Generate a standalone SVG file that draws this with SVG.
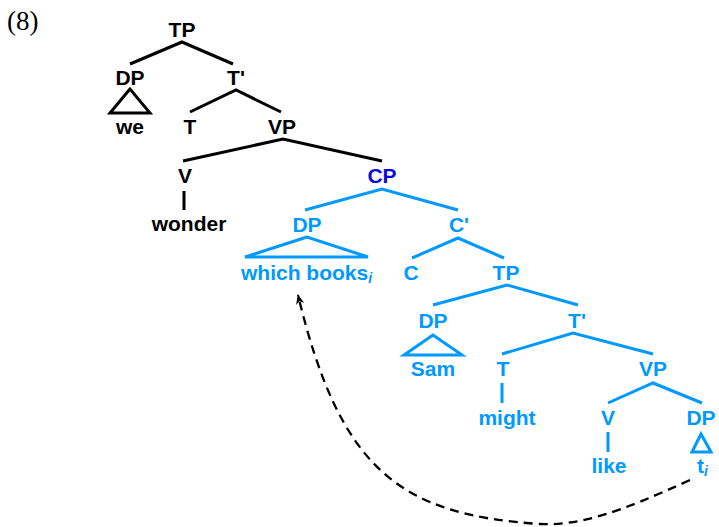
<svg xmlns="http://www.w3.org/2000/svg" width="719" height="527" viewBox="0 0 719 527">
<style>
.lbl{font-family:"Liberation Sans",Arial,sans-serif;font-weight:bold;font-size:21px;text-anchor:middle}
.k{fill:#000}
.b{fill:#0099ff}
.d{fill:#0b0bd8}
.lk{stroke:#000;stroke-width:3;fill:none;stroke-linecap:butt}
.lb{stroke:#0099ff;stroke-width:3;fill:none;stroke-linecap:butt}
.sub{font-style:italic;font-size:14px}
</style>
<defs>
<marker id="ah" viewBox="0 0 10 10" refX="9" refY="5" markerWidth="4.5" markerHeight="4.5" orient="auto" markerUnits="strokeWidth">
<path d="M0,1 L10,5 L0,9 L3,5 Z" fill="#000"/>
</marker>
</defs>
<rect width="719" height="527" fill="#fff"/>
<text x="7" y="30" font-family="'Liberation Serif','Times New Roman',serif" font-size="27" fill="#000">(8)</text>

<g id="connectors">
<path class="lk" d="M130,64 L182,42 L233,64"/>
<path class="lk" d="M190,112 L236,90 L281,112"/>
<path class="lk" d="M183,161 L283,139 L382,161"/>
<path class="lk" d="M184,191 L184,210"/>
<path class="lb" d="M305,210 L382,189 L458,210"/>
<path class="lb" d="M412,258 L458,238 L504,258"/>
<path class="lb" d="M433,305 L507,285 L578,305"/>
<path class="lb" d="M502,354 L573,333 L653,354"/>
<path class="lb" d="M502,383 L502,403"/>
<path class="lb" d="M608,403 L653,383 L702,403"/>
<path class="lb" d="M608,432 L608,452"/>
<path d="M690,480 C620,512 580,526 540,524 C400,515 340,470 298,295" fill="none" stroke="#000" stroke-width="2.3" stroke-dasharray="9,6" marker-end="url(#ah)"/>
</g>

<g id="n-TP1"><text class="lbl k" x="182" y="37">TP</text></g>
<g id="n-DP1"><text class="lbl k" x="130" y="85">DP</text>
<path class="lk" d="M130,89 L110,113 L150,113 Z" stroke-linejoin="miter"/></g>
<g id="n-we"><text class="lbl k" x="130" y="134">we</text></g>
<g id="n-Tbar1"><text class="lbl k" x="236" y="85">T'</text></g>
<g id="n-T1"><text class="lbl k" x="190" y="134">T</text></g>
<g id="n-VP1"><text class="lbl k" x="282" y="134">VP</text></g>
<g id="n-V1"><text class="lbl k" x="185" y="183">V</text></g>
<g id="n-wonder"><text class="lbl k" x="189" y="231">wonder</text></g>
<g id="n-CP"><text class="lbl d" x="382" y="183">CP</text></g>
<g id="n-DP2"><text class="lbl b" x="307" y="232">DP</text>
<path class="lb" d="M307,237 L245,257 L368,257 Z"/></g>
<g id="n-whichbooks"><text class="lbl b" x="241" y="280" style="text-anchor:start">which books<tspan class="sub" dy="3">i</tspan></text></g>
<g id="n-Cbar"><text class="lbl b" x="459" y="232">C'</text></g>
<g id="n-C"><text class="lbl b" x="411" y="280">C</text></g>
<g id="n-TP2"><text class="lbl b" x="506" y="280">TP</text></g>
<g id="n-DP3"><text class="lbl b" x="433" y="328">DP</text>
<path class="lb" d="M433,335 L404,355 L462,355 Z"/></g>
<g id="n-Sam"><text class="lbl b" x="433" y="376">Sam</text></g>
<g id="n-Tbar2"><text class="lbl b" x="577" y="328">T'</text></g>
<g id="n-T2"><text class="lbl b" x="503" y="376">T</text></g>
<g id="n-might"><text class="lbl b" x="507" y="425">might</text></g>
<g id="n-VP2"><text class="lbl b" x="653" y="376">VP</text></g>
<g id="n-V2"><text class="lbl b" x="608" y="425">V</text></g>
<g id="n-like"><text class="lbl b" x="609" y="473">like</text></g>
<g id="n-DP4"><text class="lbl b" x="701" y="425">DP</text>
<path class="lb" d="M701,434 L692,452 L711,452 Z"/></g>
<g id="n-ti"><text class="lbl b" x="697" y="473" style="text-anchor:start">t<tspan class="sub" dy="3">i</tspan></text></g>
</svg>
